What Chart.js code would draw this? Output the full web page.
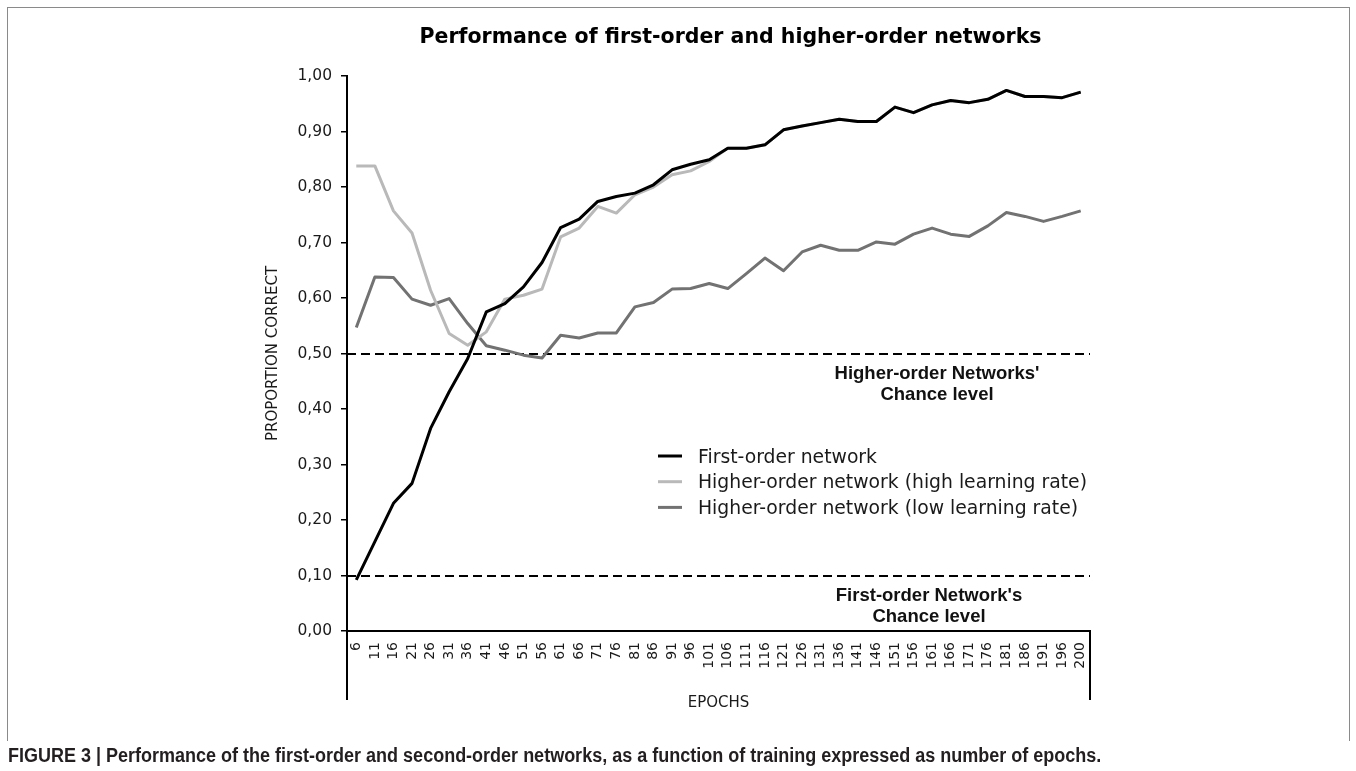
<!DOCTYPE html>
<html>
<head>
<meta charset="utf-8">
<script src="https://cdn.jsdelivr.net/npm/chart.js@4.4.1/dist/chart.umd.min.js"></script>
<style>
  html, body { margin: 0; padding: 0; background: #fff; }
  #wrap { position: relative; width: 1356px; height: 771px; overflow: hidden; }
  #frame { position: absolute; left: 7px; top: 7px; width: 1341px; height: 733px;
           border: 1px solid #8a8a8a; border-bottom: none; }
  #chart { position: absolute; left: 0; top: 0; }
  #caption { position: absolute; left: 8px; top: 744px; white-space: nowrap;
             font: bold 20px "Liberation Sans", Arial, sans-serif;
             transform: scaleX(0.9); transform-origin: left top;
             color: #231f20; }
</style>
</head>
<body>
<div id="wrap">
  <div id="frame"></div>
  <canvas id="chart" width="1356" height="771"></canvas>
  <div id="caption">FIGURE 3 | Performance of the first-order and second-order networks, as a function of training expressed as number of epochs.</div>
</div>
<script>
const epochs = [6, 11, 16, 21, 26, 31, 36, 41, 46, 51, 56, 61, 66, 71, 76, 81, 86, 91, 96, 101,
    106, 111, 116, 121, 126, 131, 136, 141, 146, 151, 156, 161, 166, 171, 176, 181, 186, 191, 196, 200];

const firstOrder = [0.092, 0.161, 0.230, 0.266, 0.365, 0.431, 0.491, 0.575, 0.590, 0.620,
    0.664, 0.727, 0.742, 0.774, 0.783, 0.789, 0.804, 0.831, 0.841, 0.849,
    0.870, 0.870, 0.876, 0.903, 0.910, 0.916, 0.922, 0.918, 0.918, 0.944,
    0.934, 0.948, 0.956, 0.952, 0.958, 0.974, 0.963, 0.963, 0.961, 0.971];

// from 106 on this one runs under the black line
const higherHigh = [0.838, 0.838, 0.757, 0.717, 0.614, 0.536, 0.515, 0.539, 0.598, 0.605,
    0.616, 0.710, 0.726, 0.765, 0.753, 0.786, 0.800, 0.822, 0.829, 0.846,
    0.870, 0.870, 0.876, 0.903, 0.910, 0.916, 0.922, 0.918, 0.918, 0.944,
    0.934, 0.948, 0.956, 0.952, 0.958, 0.974, 0.963, 0.963, 0.961, 0.971];

const higherLow = [0.547, 0.638, 0.637, 0.598, 0.587, 0.599, 0.554, 0.514, 0.506, 0.497,
    0.492, 0.533, 0.528, 0.537, 0.537, 0.584, 0.592, 0.616, 0.617, 0.626,
    0.617, 0.644, 0.672, 0.649, 0.683, 0.695, 0.686, 0.686, 0.701, 0.697,
    0.715, 0.726, 0.715, 0.711, 0.730, 0.754, 0.747, 0.738, 0.747, 0.757];

const seriesLabels = ['First-order network', 'Higher-order network (high learning rate)', 'Higher-order network (low learning rate)'];
const seriesColors = ['#000000', '#b9b9b9', '#727272'];

const chanceLevels = [0.5, 0.1];
const chanceLabels = [["Higher-order Networks'", 'Chance level'], ["First-order Network's", 'Chance level']];

const chartTitle = 'Performance of first-order and higher-order networks';

const overlay = {
    id: 'overlay',
    beforeDatasetsDraw(chart) {
        const { ctx, chartArea: a, scales: { y } } = chart;
        ctx.save();
        ctx.strokeStyle = '#000';
        ctx.lineWidth = 2;
        ctx.setLineDash([9, 5]);
        chanceLevels.forEach(v => {
            const py = Math.round(y.getPixelForValue(v));
            ctx.beginPath();
            ctx.moveTo(a.left, py);
            ctx.lineTo(a.right, py);
            ctx.stroke();
        });
        ctx.restore();
    },
    afterDraw(chart) {
        const { ctx, chartArea: a, scales: { y } } = chart;
        ctx.save();

        // axis box below the category labels
        ctx.strokeStyle = '#000';
        ctx.lineWidth = 2;
        ctx.beginPath();
        ctx.moveTo(a.left, a.bottom);
        ctx.lineTo(a.left, 700);
        ctx.moveTo(a.right, a.bottom);
        ctx.lineTo(a.right, 700);
        ctx.stroke();

        // title
        ctx.fillStyle = '#000';
        ctx.font = 'bold 20.5px "DejaVu Sans", sans-serif';
        ctx.textAlign = 'center';
        ctx.textBaseline = 'alphabetic';
        ctx.fillText(chartTitle, 730.5, 43);

        // chance level notes
        ctx.fillStyle = '#111';
        ctx.font = 'bold 18.5px "Liberation Sans", Arial, sans-serif';
        const noteX = [937, 929];
        chanceLevels.forEach((v, i) => {
            const py = y.getPixelForValue(v);
            ctx.fillText(chanceLabels[i][0], noteX[i], py + 25);
            ctx.fillText(chanceLabels[i][1], noteX[i], py + 46);
        });

        // legend
        ctx.textAlign = 'left';
        ctx.font = '18.8px "DejaVu Sans", sans-serif';
        chart.data.datasets.forEach((ds, i) => {
            const ly = 456 + i * 25.7;
            ctx.strokeStyle = ds.borderColor;
            ctx.lineWidth = 3;
            ctx.beginPath();
            ctx.moveTo(658, ly);
            ctx.lineTo(682, ly);
            ctx.stroke();
            ctx.fillStyle = '#1a1a1a';
            ctx.fillText(ds.label, 698, ly + 6.5);
        });
        ctx.restore();
    }
};

new Chart(document.getElementById('chart'), {
    type: 'line',
    data: {
        labels: epochs,
        datasets: [
            { label: seriesLabels[0], data: firstOrder, borderColor: seriesColors[0] },
            { label: seriesLabels[1], data: higherHigh, borderColor: seriesColors[1] },
            { label: seriesLabels[2], data: higherLow, borderColor: seriesColors[2] }
        ]
    },
    options: {
        responsive: false,
        animation: false,
        devicePixelRatio: 1,
        layout: { padding: { left: 264, right: 266, top: 76, bottom: 59 } },
        elements: {
            line: { borderWidth: 3, tension: 0, fill: false, borderJoinStyle: 'round' },
            point: { radius: 0, hoverRadius: 0 }
        },
        plugins: {
            legend: { display: false },
            title: { display: false },
            tooltip: { enabled: false }
        },
        scales: {
            x: {
                offset: true,
                grid: { display: false, drawTicks: false },
                border: { display: true, color: '#000', width: 2 },
                ticks: {
                    autoSkip: false,
                    maxRotation: 90,
                    minRotation: 90,
                    padding: 11,
                    color: '#1a1a1a',
                    font: { family: 'DejaVu Sans', size: 14 }
                },
                title: {
                    display: true,
                    text: 'EPOCHS',
                    color: '#1a1a1a',
                    padding: 0,
                    font: { family: 'DejaVu Sans', size: 15 }
                },
                afterFit(scale) { scale.height = 81; }
            },
            y: {
                min: 0,
                max: 1,
                grid: { drawOnChartArea: false, drawTicks: true, tickLength: 6, color: '#000', lineWidth: 1.5 },
                border: { display: true, color: '#000', width: 2 },
                ticks: {
                    stepSize: 0.1,
                    padding: 9,
                    color: '#1a1a1a',
                    font: { family: 'DejaVu Sans', size: 15.5 },
                    callback: v => v.toFixed(2).replace('.', ',')
                },
                title: {
                    display: true,
                    text: 'PROPORTION CORRECT',
                    color: '#1a1a1a',
                    padding: 0,
                    font: { family: 'DejaVu Sans', size: 15 }
                },
                afterFit(scale) { scale.width = 83; }
            }
        }
    },
    plugins: [overlay]
});
</script>
</body>
</html>
